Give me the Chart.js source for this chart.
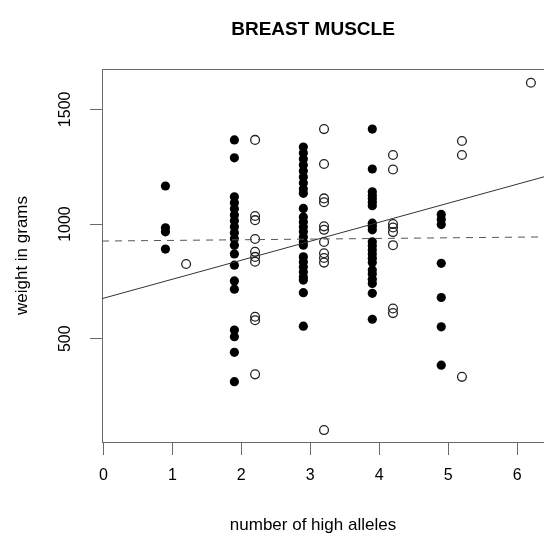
<!DOCTYPE html>
<html>

<head>
    <script src="https://cdn.jsdelivr.net/npm/chart.js@4.4.2/dist/chart.umd.min.js"></script>
    <style>
        body { margin: 0; background: #fff; }
    </style>
</head>

<body>
    <canvas id="chart" width="544" height="539"></canvas>
</body>
<script>
    // x positions of each group (jittered allele counts) and the weights
    const filledX = [0.9, 1.9, 2.9, 3.9, 4.9];
    const filledY = [
        [1166, 984, 966, 891],
        [1367, 1289, 1119, 1093, 1067, 1040, 1014, 988, 962, 936, 908, 870, 821, 752, 716, 538, 509, 441, 313],
        [1336, 1310, 1284, 1258, 1231, 1205, 1179, 1153, 1134, 1068, 1031, 1009, 987, 966, 944, 922, 908, 857, 835, 813, 791, 769, 756, 701, 555],
        [1414, 1240, 1141, 1125, 1110, 1095, 1080, 1004, 990, 975, 923, 905, 887, 869, 851, 833, 800, 782, 760, 741, 698, 585],
        [1042, 1020, 998, 829, 680, 552, 385]
    ];
    const openX = [1.2, 2.2, 3.2, 4.2, 5.2, 6.2];
    const openY = [
        [826],
        [1367, 1035, 1017, 935, 879, 857, 836, 596, 581, 345],
        [1414, 1262, 1112, 1095, 990, 975, 922, 873, 852, 832, 102],
        [1301, 1238, 1000, 985, 965, 908, 632, 612],
        [1362, 1301, 334],
        [1616]
    ];
    // end points of the two fitted lines
    const fitLine = [{ x: -0.02, y: 675 }, { x: 6.39, y: 1206 }];
    const flatLine = [{ x: -0.02, y: 926 }, { x: 6.39, y: 944 }];

    const xTicks = [0, 1, 2, 3, 4, 5, 6];
    const yTicks = [500, 1000, 1500];

    const FONT = 'Liberation Sans, Arial, sans-serif';
    const AXIS = '#6a6a6a';

    function toPoints(xs, ys) {
        return xs.flatMap((x, i) => ys[i].map(y => ({ x: x, y: y })));
    }

    const textPlugin = {
        id: 'texts',
        afterDraw(chart) {
            const ctx = chart.ctx;
            const area = chart.chartArea;
            const yScale = chart.scales.y;
            ctx.save();
            // box top
            ctx.strokeStyle = AXIS;
            ctx.lineWidth = 1;
            ctx.beginPath();
            ctx.moveTo(area.left, Math.round(area.top) + 0.5);
            ctx.lineTo(area.right, Math.round(area.top) + 0.5);
            ctx.stroke();

            ctx.fillStyle = '#000';
            ctx.textAlign = 'center';
            ctx.textBaseline = 'middle';

            ctx.font = 'bold 19px ' + FONT;
            ctx.fillText('BREAST MUSCLE', 313, 30);

            ctx.font = '17px ' + FONT;
            ctx.fillText('number of high alleles', 313, 525);

            // rotated y tick labels
            ctx.font = '16px ' + FONT;
            for (const v of yTicks) {
                ctx.save();
                ctx.translate(66, yScale.getPixelForValue(v));
                ctx.rotate(-Math.PI / 2);
                ctx.fillText(String(v), 0, 0);
                ctx.restore();
            }

            ctx.font = '17px ' + FONT;
            ctx.save();
            ctx.translate(22, (area.top + area.bottom) / 2);
            ctx.rotate(-Math.PI / 2);
            ctx.fillText('weight in grams', 0, 0);
            ctx.restore();

            ctx.restore();
        }
    };

    const data = {
        datasets: [
            {
                type: 'line',
                data: fitLine,
                borderColor: '#333',
                borderWidth: 1,
                pointRadius: 0,
                fill: false
            },
            {
                type: 'line',
                data: flatLine,
                borderColor: '#555',
                borderWidth: 1,
                borderDash: [7, 6],
                pointRadius: 0,
                fill: false
            },
            {
                data: toPoints(filledX, filledY),
                backgroundColor: '#000',
                borderColor: '#000',
                borderWidth: 0,
                pointRadius: 4.6
            },
            {
                data: toPoints(openX, openY),
                backgroundColor: 'rgba(0,0,0,0)',
                borderColor: '#222',
                borderWidth: 1.3,
                pointRadius: 4.4
            }
        ]
    };

    const config = {
        type: 'scatter',
        data: data,
        plugins: [textPlugin],
        options: {
            responsive: false,
            animation: false,
            events: [],
            layout: { autoPadding: false, padding: { top: 69, left: 0, right: 0, bottom: 0 } },
            plugins: {
                legend: { display: false },
                tooltip: { enabled: false }
            },
            scales: {
                x: {
                    type: 'linear',
                    min: -0.02,
                    max: 6.39,
                    afterBuildTicks: s => { s.ticks = xTicks.map(v => ({ value: v })); },
                    afterFit: s => {
                        s.height = 97;
                        s.paddingLeft = 0;
                        s.paddingRight = 0;
                    },
                    border: { display: true, color: AXIS, width: 1 },
                    grid: { drawOnChartArea: false, drawTicks: true, tickLength: 13, color: AXIS },
                    ticks: {
                        color: '#000',
                        font: { family: FONT, size: 16 },
                        padding: 11,
                        maxRotation: 0,
                        autoSkip: false
                    }
                },
                y: {
                    type: 'linear',
                    min: 50,
                    max: 1676,
                    afterBuildTicks: s => { s.ticks = yTicks.map(v => ({ value: v })); },
                    afterFit: s => {
                        s.width = 102;
                        s.paddingTop = 0;
                        s.paddingBottom = 0;
                    },
                    border: { display: true, color: AXIS, width: 1 },
                    grid: { drawOnChartArea: false, drawTicks: true, tickLength: 12, color: AXIS },
                    ticks: { display: false }
                }
            }
        }
    };

    const chart = new Chart(document.getElementById('chart'), config);
</script>

</html>
